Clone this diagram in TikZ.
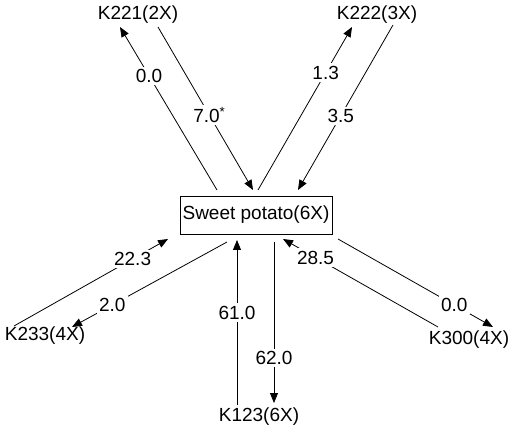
\documentclass[tikz,border=0pt]{standalone}
\usepackage{fontspec}
\setmainfont{Liberation Sans}
\usetikzlibrary{arrows.meta}
\begin{document}
\begin{tikzpicture}[x=1pt,y=-1pt,
  lbl/.style={font=\fontsize{19}{21}\selectfont, inner sep=1pt},
  num/.style={font=\fontsize{19}{21}\selectfont, fill=white, inner sep=2.5pt},
  flow/.style={line width=0.8pt, -{Triangle[length=10pt,width=8pt]}},
  boxst/.style={draw, line width=0.6pt, minimum width=152pt, minimum height=38pt, inner sep=0pt, font=\fontsize{19}{21}\selectfont}]
\useasboundingbox (0,0) rectangle (511,430);
\node[boxst] (sp) at (256,215) {Sweet potato(6X)};
\node[lbl] (k221) at (138,15) {K221(2X)};
\node[lbl] (k222) at (377,15) {K222(3X)};
\node[lbl] (k233) at (45,336) {K233(4X)};
\node[lbl] (k123) at (259,417) {K123(6X)};
\node[lbl] (k300) at (469,340) {K300(4X)};
% end points
\coordinate (a1s) at (217,190); \coordinate (a1e) at (120,27);
\coordinate (a2s) at (158,27);  \coordinate (a2e) at (253,190);
\coordinate (a3s) at (258,190); \coordinate (a3e) at (352,27);
\coordinate (a4s) at (393,25);  \coordinate (a4e) at (298,190);
\coordinate (a5s) at (14,326);  \coordinate (a5e) at (168,239);
\coordinate (a6s) at (227,242); \coordinate (a6e) at (72,327);
\coordinate (a7s) at (237,405); \coordinate (a7e) at (237,240);
\coordinate (a8s) at (274,242); \coordinate (a8e) at (274,403);
\coordinate (a9s) at (438,327); \coordinate (a9e) at (283,239);
\coordinate (a10s) at (338,239); \coordinate (a10e) at (493,327);
\draw[flow] (a1s) -- node[num, pos=0.7] {0.0} (a1e);
\draw[flow] (a2s) -- node[num, pos=0.54] {7.0\textsuperscript{*}} (a2e);
\draw[flow] (a3s) -- node[num, pos=0.72] {1.3} (a3e);
\draw[flow] (a4s) -- node[num, pos=0.55] {3.5} (a4e);
\draw[flow] (a5s) -- node[num, pos=0.77] {22.3} (a5e);
\draw[flow] (a6s) -- node[num, pos=0.74] {2.0} (a6e);
\draw[flow] (a7s) -- node[num, pos=0.56] {61.0} (a7e);
\draw[flow] (a8s) -- node[num, pos=0.72] {62.0} (a8e);
\draw[flow] (a9s) -- node[num, pos=0.79] {28.5} (a9e);
\draw[flow] (a10s) -- node[num, pos=0.75] {0.0} (a10e);
\end{tikzpicture}
\end{document}
